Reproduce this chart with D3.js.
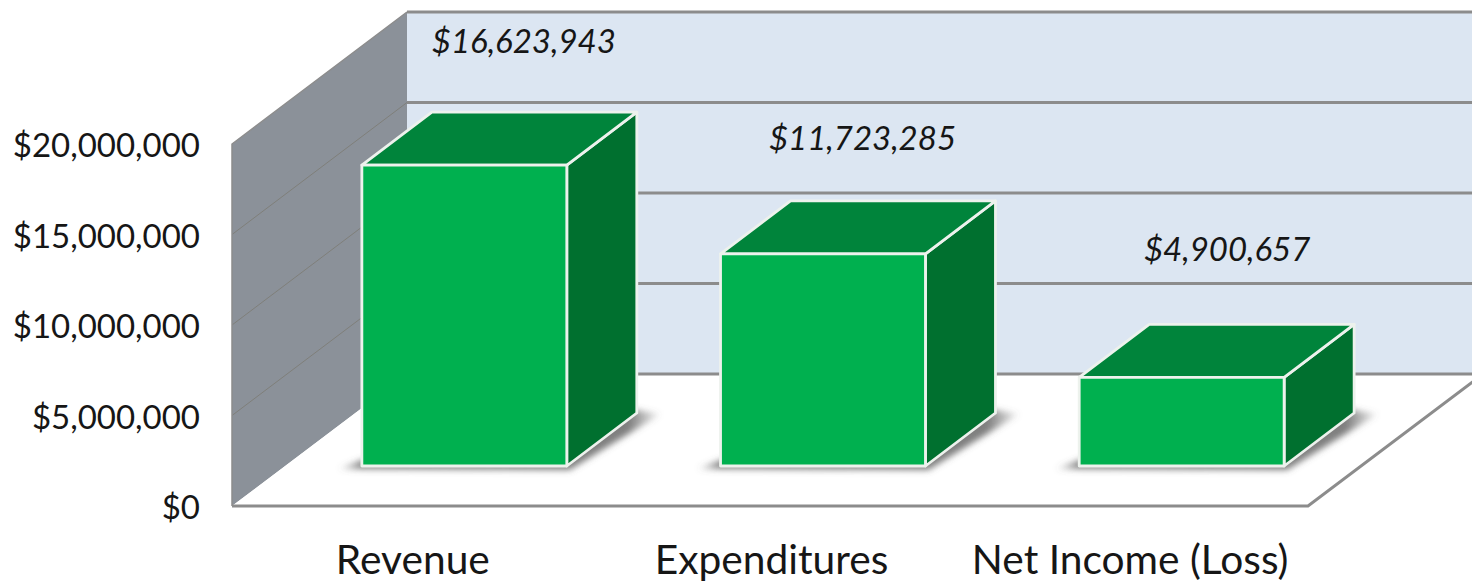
<!DOCTYPE html>
<html><head><meta charset="utf-8">
<script src="https://cdn.jsdelivr.net/npm/d3@7"></script>
<style>html,body{margin:0;padding:0;background:#fff;overflow:hidden}svg{display:block}text{font-family:Lato,"Open Sans",sans-serif;fill:#161616}</style>
</head><body><div id="c"></div>
<script>
const categories = ["Revenue","Expenditures","Net Income (Loss)"];
const values = [16623943,11723285,4900657];
const valueLabels = ["$16,623,943","$11,723,285","$4,900,657"];
const yTicks = [0,5000000,10000000,15000000,20000000];

const W=1472,H=585;
const svg=d3.select("#c").append("svg").attr("width",W).attr("height",H);
const y=d3.scaleLinear().domain([0,20000000]).range([506,144]);
const x=d3.scaleBand().domain(categories).range([232,1308]).paddingInner(0.4286).paddingOuter(0.2143);
const fmt=d=>"$"+d3.format(",")(d);
// oblique depth of the chart box and of the bars
const DX=175,DY=-132,BDX=53,BDY=-40,bx=70,by=-53;
const line=d3.line();
const defs=svg.append("defs");
defs.append("filter").attr("id","blur").attr("x","-20%").attr("y","-50%").attr("width","140%").attr("height","200%")
  .append("feGaussianBlur").attr("stdDeviation",3.2);
const grad=defs.append("linearGradient").attr("id","shade").attr("x1",0).attr("x2",1).attr("y1",0).attr("y2",0);
[[0,0.05],[0.07,0.75],[0.9,0.8],[1,0.05]].forEach(s=>grad.append("stop").attr("offset",s[0]).attr("stop-color","#5f5f5f").attr("stop-opacity",s[1]));

const L=x.range()[0],R=x.range()[1],yTop=y(20000000),base=y(0);
// back wall
svg.append("rect").attr("x",L+DX).attr("y",yTop+DY).attr("width",W-L-DX).attr("height",base-yTop).attr("fill","#dce6f2");
// side wall
svg.append("path").attr("d",line([[L,yTop],[L+DX,yTop+DY],[L+DX,base+DY],[L,base]])+"Z").attr("fill","#8b9199");
// floor
svg.append("path").attr("d",line([[L,base],[L+DX,base+DY],[R+DX,base+DY],[R,base]])+"Z").attr("fill","#fff");
// grid
const grid=svg.append("g");
yTicks.forEach(t=>{
  grid.append("line").attr("x1",L+DX).attr("x2",W).attr("y1",y(t)+DY).attr("y2",y(t)+DY).attr("stroke","#8c8c8c").attr("stroke-width",3);
  if(t>0&&t<20000000) grid.append("line").attr("x1",L).attr("x2",L+DX).attr("y1",y(t)).attr("y2",y(t)+DY).attr("stroke","#7f7f7a").attr("stroke-width",1);
});
grid.append("path").attr("d",line([[L,base],[L,yTop],[L+DX,yTop+DY]])).attr("fill","none").attr("stroke","#8c8c8c").attr("stroke-width",1.5);
grid.append("path").attr("d",line([[L,base],[R,base],[R+DX,base+DY]])).attr("fill","none").attr("stroke","#8c8c8c").attr("stroke-width",3);

// bars
const bars=svg.append("g").selectAll("g").data(categories.map((c,i)=>({c,v:values[i]}))).join("g");
bars.each(function(d){
  const g=d3.select(this),x0=x(d.c)+BDX,w=x.bandwidth(),x1=x0+w,yb=y(0)+BDY,yt=y(d.v)+BDY;
  g.append("path").attr("filter","url(#blur)").attr("fill","url(#shade)")
    .attr("d",line([[x0-24,yb+3],[x1+3,yb+4],[x1+bx+24,yb+by+1],[x1+bx-6,yb+by-4],[x0,yb-6]])+"Z");
  const st={stroke:"#edf2ed","stroke-width":2.8,"stroke-linejoin":"round"};
  const face=(pts,fill)=>{const p=g.append("path").attr("d",line(pts)+"Z").attr("fill",fill);Object.entries(st).forEach(([k,v])=>p.attr(k,v));};
  face([[x1,yt],[x1+bx,yt+by],[x1+bx,yb+by],[x1,yb]],"#00702f");
  face([[x0,yt],[x0+bx,yt+by],[x1+bx,yt+by],[x1,yt]],"#00843b");
  face([[x0,yt],[x1,yt],[x1,yb],[x0,yb]],"#00b04f");
});

// value labels, hand-placed in the reference
const labelShift=[[59.5,-71],[39.5,-63],[45.5,-75]];
svg.append("g").selectAll("text").data(valueLabels).join("text")
  .attr("x",(d,i)=>x(categories[i])+x.bandwidth()/2+BDX+labelShift[i][0])
  .attr("y",(d,i)=>y(values[i])+BDY+by+labelShift[i][1]+12)
  .attr("text-anchor","middle").attr("font-style","italic").attr("font-size",33).text(d=>d);

// axes
const ya=svg.append("g").attr("transform",`translate(${L-32},0)`)
  .call(d3.axisLeft(y).tickValues(yTicks).tickFormat(fmt).tickSize(0).tickPadding(0));
ya.select(".domain").remove();
ya.selectAll("text").attr("font-size",33).attr("dy","0.38em").style("font-family","Lato");
const xa=svg.append("g").attr("transform",`translate(1.5,${base})`)
  .call(d3.axisBottom(x).tickSize(0).tickPadding(0));
xa.select(".domain").remove();
xa.selectAll("text").attr("font-size",40.7).attr("y",39).attr("dy","0.71em").style("font-family","Lato");
</script></body></html>
